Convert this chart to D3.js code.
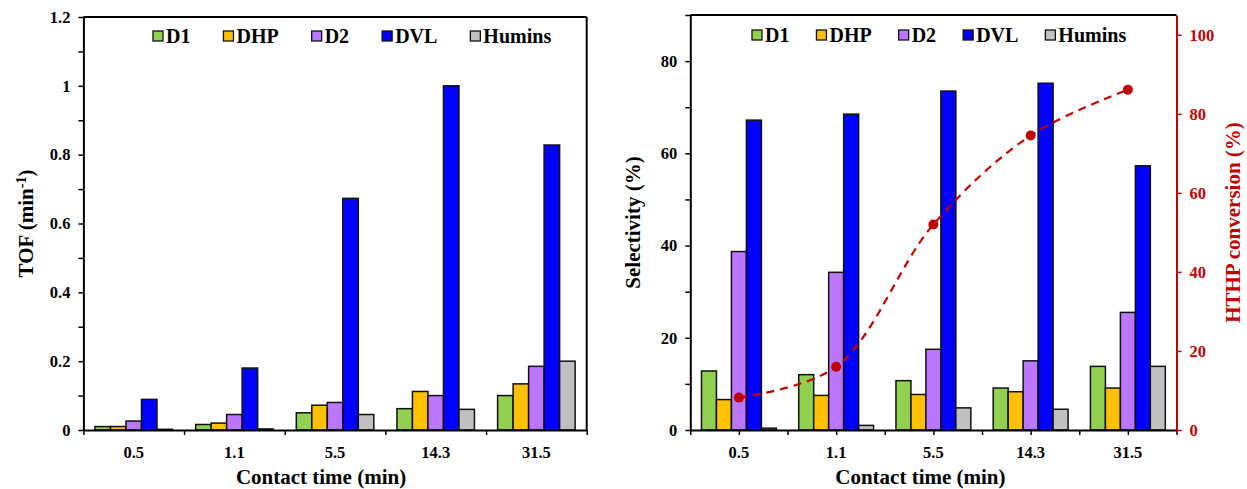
<!DOCTYPE html>
<html>
<head>
<meta charset="utf-8">
<script src="https://cdn.jsdelivr.net/npm/d3@7"></script>
<style>
  body { margin: 0; background: #fff; }
  svg { display: block; font-family: "Liberation Serif", "Times New Roman", Times, "DejaVu Serif", serif; font-weight: bold; }
</style>
</head>
<body>
<div id="chart"></div>
<script>
// data
var categories = ["0.5", "1.1", "5.5", "14.3", "31.5"];
var seriesNames = ["D1", "DHP", "D2", "DVL", "Humins"];
var seriesColors = ["#92D050", "#FFC000", "#BB77FF", "#0000FF", "#C0C0C0"];

// TOF (min-1), left panel
var tofD1 = [0.010, 0.016, 0.050, 0.062, 0.100];
var tofDHP = [0.010, 0.020, 0.072, 0.112, 0.134];
var tofD2 = [0.026, 0.045, 0.080, 0.100, 0.185];
var tofDVL = [0.089, 0.180, 0.673, 1.000, 0.828];
var tofHumins = [0.002, 0.003, 0.045, 0.060, 0.200];

// selectivity (%), right panel
var selD1 = [12.8, 12.0, 10.7, 9.1, 13.8];
var selDHP = [6.6, 7.5, 7.7, 8.3, 9.1];
var selD2 = [38.7, 34.2, 17.5, 15.0, 25.5];
var selDVL = [67.2, 68.5, 73.5, 75.2, 57.3];
var selHumins = [0.4, 1.0, 4.8, 4.5, 13.8];

// HTHP conversion (%), right panel, secondary axis
var conversion = [8.2, 16.0, 52.0, 74.5, 86.1];

var tofTicks = [0, 0.2, 0.4, 0.6, 0.8, 1, 1.2];
var selTicks = [0, 20, 40, 60, 80];
var convTicks = [0, 20, 40, 60, 80, 100];

var W = 1247, H = 489;
var red = "#C00000";
var fontTick = 16.5, fontTitle = 21, fontLegend = 20;
var serif = "'Liberation Serif', 'Times New Roman', Times, serif";

var svg = d3.select("#chart").append("svg")
  .attr("width", W)
  .attr("height", H);

function table(lists) {
  // one row per category, one value per series
  return categories.map(function(c, i) {
    return {cat: c, values: lists.map(function(l, j) { return {name: seriesNames[j], v: l[i]}; })};
  });
}

function drawBars(g, x0, y, rows) {
  var bw = x0.bandwidth();
  var x1 = d3.scaleBand().domain(seriesNames).range([bw * 0.115, bw * 0.885]).padding(0);
  var color = d3.scaleOrdinal().domain(seriesNames).range(seriesColors);
  g.selectAll(".grp")
    .data(rows)
    .enter().append("g")
    .attr("class", "grp")
    .attr("transform", function(d) { return "translate(" + x0(d.cat) + ",0)"; })
    .selectAll("rect")
    .data(function(d) { return d.values; })
    .enter().append("rect")
    .attr("x", function(d) { return x1(d.name); })
    .attr("width", x1.bandwidth())
    .attr("y", function(d) { return y(d.v); })
    .attr("height", function(d) { return y(0) - y(d.v); })
    .style("fill", function(d) { return color(d.name); })
    .style("stroke", "#111")
    .style("stroke-width", 1.5);
}

function bottomAxis(g, x0, left, right, bottom, centerTicks) {
  // tick marks on the category boundaries (and centres on the right panel)
  var n = categories.length;
  var xt = d3.scaleLinear().domain([0, n]).range([left, right]);
  var vals = centerTicks ? d3.range(0, n + 0.01, 0.5) : d3.range(0, n + 1);
  var ax = g.append("g")
    .attr("transform", "translate(0," + bottom + ")")
    .call(d3.axisBottom(xt).tickValues(vals).tickSize(5).tickSizeOuter(0).tickFormat(""));
  ax.select(".domain").style("stroke", "#000").style("stroke-width", 2);
  ax.selectAll(".tick line").style("stroke", "#000").style("stroke-width", 1.5);

  var lab = g.append("g")
    .attr("transform", "translate(0," + bottom + ")")
    .call(d3.axisBottom(x0).tickSize(0).tickPadding(16));
  lab.select(".domain").remove();
  lab.selectAll("text")
    .style("font-size", fontTick + "px")
    .style("font-family", serif)
    .style("font-weight", "bold")
    .style("fill", "#000");
}

function vertAxis(g, axisFn, y, x, ticks, labelTicks, col) {
  var ax = g.append("g")
    .attr("transform", "translate(" + x + ",0)")
    .call(axisFn(y).tickValues(ticks).tickSize(5).tickSizeOuter(0).tickPadding(8)
      .tickFormat(function(d) {
        var hit = labelTicks.some(function(t) { return Math.abs(t - d) < 1e-9; });
        return hit ? d3.format("~g")(d) : "";
      }));
  ax.select(".domain").style("stroke", col).style("stroke-width", 2);
  ax.selectAll(".tick line").style("stroke", col).style("stroke-width", 1.5);
  ax.selectAll("text")
    .style("font-size", fontTick + "px")
    .style("font-family", serif)
    .style("font-weight", "bold")
    .style("fill", col);
}

function legend(g, x, y, gap) {
  var cx = x;
  seriesNames.forEach(function(name, i) {
    g.append("rect")
      .attr("x", cx).attr("y", y - 5)
      .attr("width", 10).attr("height", 10)
      .style("fill", seriesColors[i])
      .style("stroke", "#111").style("stroke-width", 1.3);
    var t = g.append("text")
      .attr("x", cx + 13).attr("y", y + 7)
      .style("font-size", fontLegend + "px")
      .text(name);
    cx += 13 + t.node().getComputedTextLength() + gap;
  });
}

function yTitle(g, x, y, rot) {
  return g.append("text")
    .attr("transform", "translate(" + x + "," + y + ") rotate(" + rot + ")")
    .attr("text-anchor", "middle")
    .style("font-size", fontTitle + "px");
}

// ---------- left panel: TOF ----------
var L = {left: 83.4, right: 586.7, top: 17, bottom: 430};
var gL = svg.append("g");
var xL = d3.scaleBand().domain(categories).range([L.left, L.right]).padding(0);
var yL = d3.scaleLinear().domain([0, 1.2]).range([L.bottom, L.top]);

// frame top / right
gL.append("line").attr("x1", L.left).attr("x2", L.right).attr("y1", L.top).attr("y2", L.top)
  .style("stroke", "#000").style("stroke-width", 2);
gL.append("line").attr("x1", L.right).attr("x2", L.right).attr("y1", L.top).attr("y2", L.bottom)
  .style("stroke", "#000").style("stroke-width", 2);

drawBars(gL, xL, yL, table([tofD1, tofDHP, tofD2, tofDVL, tofHumins]));
bottomAxis(gL, xL, L.left, L.right, L.bottom, false);
vertAxis(gL, d3.axisLeft, yL, L.left, d3.range(0, 1.21, 0.1), tofTicks, "#000");
legend(gL, 153, 36, 33);

var tofLab = yTitle(gL, 33, (L.top + L.bottom) / 2, -90);
tofLab.append("tspan").text("TOF (min");
tofLab.append("tspan").attr("baseline-shift", "super").style("font-size", "14px").text("-1");
tofLab.append("tspan").text(")");

gL.append("text")
  .attr("x", (L.left + L.right) / 2 - 14).attr("y", 484)
  .attr("text-anchor", "middle")
  .style("font-size", fontTitle + "px")
  .text("Contact time (min)");

// ---------- right panel: selectivity + conversion ----------
var R = {left: 690.3, right: 1176.5, top: 15, bottom: 430};
var gR = svg.append("g");
var xR = d3.scaleBand().domain(categories).range([R.left, R.right]).padding(0);
var yR = d3.scaleLinear().domain([0, 90]).range([R.bottom, R.top]);
var yC = d3.scaleLinear().domain([0, 105]).range([R.bottom, R.top]);

gR.append("line").attr("x1", R.left).attr("x2", R.right).attr("y1", R.top).attr("y2", R.top)
  .style("stroke", "#000").style("stroke-width", 2);

drawBars(gR, xR, yR, table([selD1, selDHP, selD2, selDVL, selHumins]));
bottomAxis(gR, xR, R.left, R.right, R.bottom, true);
vertAxis(gR, d3.axisLeft, yR, R.left, d3.range(0, 90.1, 10), selTicks, "#000");
vertAxis(gR, d3.axisRight, yC, R.right, convTicks, convTicks, red);

// conversion line (smoothed, dashed) with dots
var convPts = categories.map(function(c, i) { return {cat: c, v: conversion[i]}; });
var line = d3.line()
  .x(function(d) { return xR(d.cat) + xR.bandwidth() / 2; })
  .y(function(d) { return yC(d.v); })
  .curve(d3.curveCatmullRom.alpha(0.5));
gR.append("path")
  .datum(convPts)
  .attr("d", line)
  .style("fill", "none")
  .style("stroke", red)
  .style("stroke-width", 2.2)
  .style("stroke-dasharray", "8,6");
gR.selectAll(".dot")
  .data(convPts)
  .enter().append("circle")
  .attr("class", "dot")
  .attr("cx", function(d) { return xR(d.cat) + xR.bandwidth() / 2; })
  .attr("cy", function(d) { return yC(d.v); })
  .attr("r", 5)
  .style("fill", red);

legend(gR, 752, 35, 27);

yTitle(gR, 640, (R.top + R.bottom) / 2, -90).text("Selectivity (%)");
yTitle(gR, 1240, (R.top + R.bottom) / 2, -90).style("fill", red).text("HTHP conversion (%)");

gR.append("text")
  .attr("x", (R.left + R.right) / 2 - 13).attr("y", 484)
  .attr("text-anchor", "middle")
  .style("font-size", fontTitle + "px")
  .text("Contact time (min)");
</script>
</body>
</html>
